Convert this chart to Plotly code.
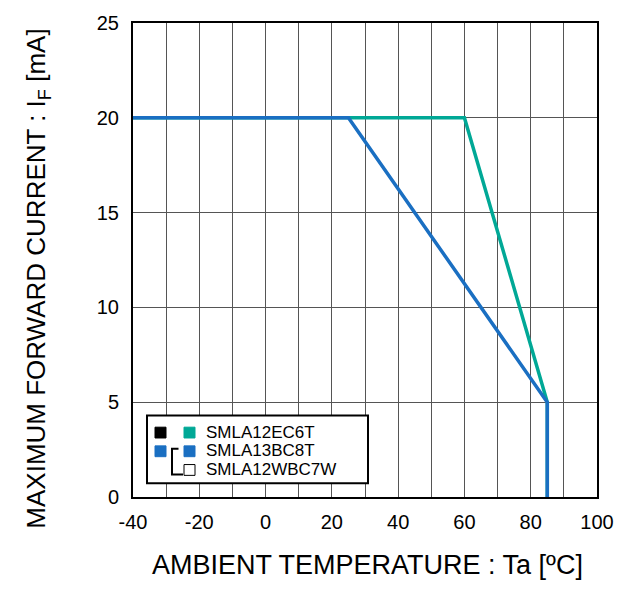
import plotly.graph_objects as go

# ---- data ----
temp_ec6t = [-40, 60, 85, 85]
curr_ec6t = [20, 20, 5, 0]
temp_bc8t = [-40, 25, 85, 85]
curr_bc8t = [20, 20, 5, 0]
legend_labels = ["SMLA12EC6T", "SMLA13BC8T", "SMLA12WBC7W"]
x_tick_vals = [-40, -20, 0, 20, 40, 60, 80, 100]
x_tick_text = ["-40", "-20", "0", "20", "40", "60", "80", "100"]
y_tick_vals = [0, 5, 10, 15, 20, 25]
y_tick_text = ["0", "5", "10", "15", "20", "25"]

TEAL = "#00A896"
BLUE = "#1A6FC2"

W, H = 626, 606
L, R, T, B = 133, 29, 15, 109
PW, PH = W - L - R, H - T - B


def px(x):
    return (x - L) / PW


def py(y):
    return (H - B - y) / PH


fig = go.Figure()
fig.add_trace(go.Scatter(x=temp_ec6t, y=curr_ec6t, mode="lines",
                         line=dict(color=TEAL, width=3.5), showlegend=False))
fig.add_trace(go.Scatter(x=temp_bc8t, y=curr_bc8t, mode="lines",
                         line=dict(color=BLUE, width=3.5), showlegend=False))

font = "Liberation Sans, Arial, sans-serif"
shapes = []
shapes.append(dict(type="rect", xref="paper", yref="paper", x0=px(147), x1=px(368),
                   y0=py(483), y1=py(414), line=dict(color="black", width=2),
                   fillcolor="white", layer="above"))


def sq(x0, y0, color, border=None):
    return dict(type="rect", xref="paper", yref="paper", x0=px(x0), x1=px(x0 + 11),
                y0=py(y0 + 11), y1=py(y0), fillcolor=color,
                line=dict(color=border or color, width=1), layer="above")


shapes.append(sq(155, 426, "black"))
shapes.append(sq(184, 426, TEAL))
shapes.append(sq(155, 445, BLUE))
shapes.append(sq(184, 445, BLUE))
shapes.append(sq(184, 464, "white", border="black"))
shapes.append(dict(type="path", xref="paper", yref="paper",
                   path=f"M {px(178.5)},{py(448)} L {px(172)},{py(448)} L {px(172)},{py(474)} L {px(183)},{py(474)}",
                   line=dict(color="black", width=2), layer="above"))

annotations = []
for lab, yc in zip(legend_labels, [431, 450, 469]):
    annotations.append(dict(text=lab, xref="paper", yref="paper", x=px(204), y=py(yc),
                            xanchor="left", yanchor="middle", showarrow=False,
                            font=dict(family=font, size=17, color="black")))
annotations.append(dict(text="AMBIENT TEMPERATURE : Ta [ºC]", xref="paper", yref="paper",
                        x=px(367), y=py(566), xanchor="center", yanchor="middle",
                        showarrow=False, font=dict(family=font, size=27, color="black")))
annotations.append(dict(text="MAXIMUM FORWARD CURRENT : I<sub>F</sub> [mA]", xref="paper",
                        yref="paper", x=px(38), y=py(275), xanchor="center", yanchor="middle",
                        textangle=-90, showarrow=False,
                        font=dict(family=font, size=26, color="black")))

fig.update_layout(
    width=W, height=H,
    margin=dict(l=L, r=R, t=T, b=B, pad=0),
    paper_bgcolor="white", plot_bgcolor="white",
    font=dict(family=font, size=20, color="black"),
    shapes=shapes, annotations=annotations,
    xaxis=dict(range=[-40, 100], tickvals=x_tick_vals, ticktext=x_tick_text,
               showgrid=True, gridcolor="#555", gridwidth=1,
               minor=dict(dtick=10, tick0=-40, showgrid=True, gridcolor="#555", gridwidth=1),
               showline=True, linecolor="black", linewidth=2, mirror=True,
               zeroline=False, ticks="", ticklabelstandoff=6),
    yaxis=dict(range=[0, 25], tickvals=y_tick_vals, ticktext=y_tick_text,
               showgrid=True, gridcolor="#555", gridwidth=1,
               showline=True, linecolor="black", linewidth=2, mirror=True,
               zeroline=False, ticks="", ticklabelstandoff=8),
)

fig.write_html("out.html", config={"displayModeBar": False},
               post_script="document.body.style.margin='0';document.body.style.overflow='hidden';")
